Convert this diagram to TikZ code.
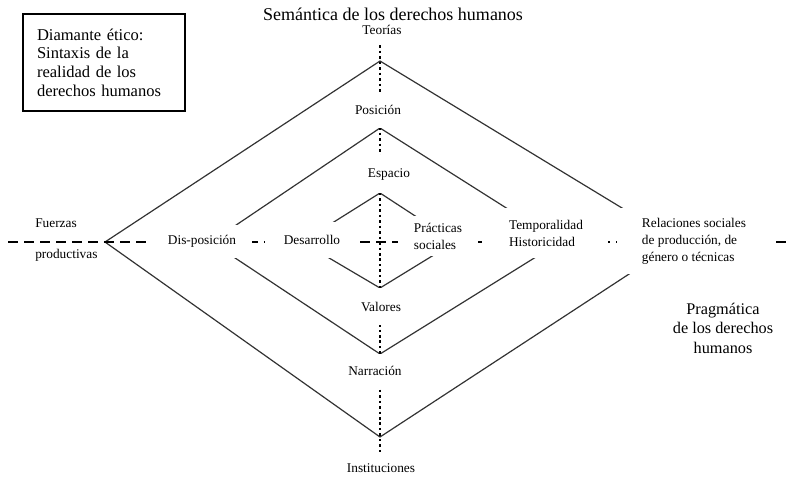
\documentclass[tikz,border=0pt]{standalone}
\usepackage{fontspec}
\setmainfont{Liberation Serif}
\usetikzlibrary{backgrounds}
\begin{document}
\begin{tikzpicture}[x=0.75pt,y=-0.75pt,
  lab/.style={font=\fontsize{10}{12.75}\selectfont, inner sep=0pt},
  cover/.style={fill=white},
  diam/.style={line width=0.9pt, black!80, line join=miter},
  hdash/.style={line width=1.9pt, dash pattern=on 7.5pt off 4.5pt},
  vdot/.style={line width=1.9pt, dash pattern=on 1.9pt off 2.2pt}]
\useasboundingbox (0,0) rectangle (789,476);

% titles and frame
\node[font=\fontsize{13.5}{16}\selectfont, inner sep=0pt] (sem) at (393,14) {Semántica de los derechos humanos};
\node[draw, line width=0.8pt, minimum width=121.5pt, minimum height=72.75pt, align=left,
      font=\fontsize{12.4}{14}\selectfont, text width=100.5pt, inner xsep=10.5pt] (box) at (104,62.5)
      {Diamante ético:\\Sintaxis de la\\realidad de los\\derechos humanos};
\node[font=\fontsize{12.2}{14.6}\selectfont, align=center, inner sep=0pt] (prag) at (723,328)
      {Pragmática\\de los derechos\\humanos};

% vertical axis labels
\node[lab, minimum height=22.5pt] (teo) at (382,30) {Teorías};
\node[lab, cover, minimum height=27pt, inner xsep=2pt] (pos) at (378,110) {Posición};
\node[lab, cover, minimum height=28.5pt, inner xsep=2pt] (esp) at (389,174) {Espacio};
\node[lab, cover, minimum height=27.75pt, inner xsep=2pt] (val) at (381,306.5) {Valores};
\node[lab, cover, minimum height=25.5pt, inner xsep=2pt] (nar) at (375,371) {Narración};
\node[lab, minimum height=22.5pt] (ins) at (381,468) {Instituciones};

% horizontal axis labels
\node[lab, anchor=west] (fue) at (35,223) {Fuerzas};
\node[lab, anchor=west] (pro) at (35,255) {productivas};
\node[lab, cover, minimum width=75pt, minimum height=24.75pt] (dis) at (202,241.5) {Dis-posición};
\node[lab, cover, minimum width=71.25pt, minimum height=27pt] (des) at (312,240) {Desarrollo};
\node[lab, cover, align=left, minimum width=60pt, minimum height=30pt] (pra) at (438,236) {Prácticas\\sociales};
\node[lab, cover, align=left, minimum width=92.25pt, minimum height=37.5pt] (tem) at (546,233) {Temporalidad\\Historicidad};
\node[lab, cover, align=left, minimum width=115.5pt, minimum height=49.5pt] (rel) at (694,241) {Relaciones sociales\\de producción, de\\género o técnicas};

\begin{scope}[on background layer]
  \coordinate (axis) at (380,0);
  % outer diamond
  \coordinate (oT) at (380,61);
  \coordinate (oR) at (678,242);
  \coordinate (oB) at (380,437);
  \coordinate (oL) at (105,242);
  % middle diamond
  \coordinate (mT) at (380,128);
  \coordinate (mR) at (560,242);
  \coordinate (mB) at (380,354);
  \coordinate (mL) at (211,242);
  % inner diamond
  \coordinate (iT) at (380,193);
  \coordinate (iR) at (455,242);
  \coordinate (iB) at (380,288);
  \coordinate (iL) at (302,242);
  \draw[diam] (oT) -- (oR) -- (oB) -- (oL) -- cycle;
  \draw[diam] (mT) -- (mR) -- (mB) -- (mL) -- cycle;
  \draw[diam] (iT) -- (iR) -- (iB) -- (iL) -- cycle;
  % axes
  \coordinate (hl) at (8,242);
  \coordinate (hr) at (800,242);
  \draw[hdash] (hl) -- (hr);
  \draw[vdot] (teo.south -| axis) -- (ins.north -| axis);
\end{scope}
\end{tikzpicture}
\end{document}
